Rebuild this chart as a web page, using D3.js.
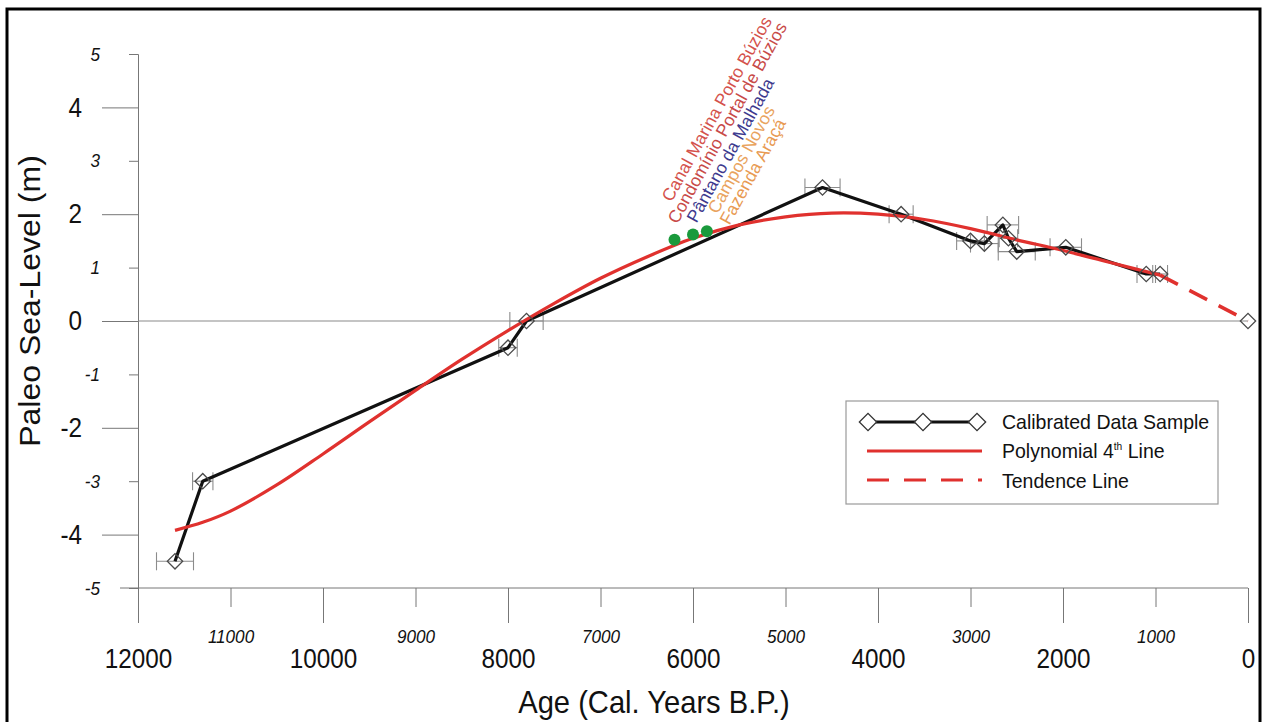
<!DOCTYPE html>
<html>
<head>
<meta charset="utf-8">
<script src="https://cdn.jsdelivr.net/npm/d3@7"></script>
<style>
  body { margin: 0; background: #fff; }
  svg { display: block; font-family: "Liberation Sans", Arial, sans-serif; }
</style>
</head>
<body>
<div id="chart"></div>
<script>
// calibrated samples: age (cal. years BP), level (m), age error (years)
var sampleAge   = [11600, 11300, 8000, 7800, 4600, 3750, 3000, 2850, 2650, 2590, 2500, 1970, 1100, 950];
var sampleLevel = [-4.5, -3.0, -0.5, 0.0, 2.5, 2.0, 1.5, 1.45, 1.8, 1.55, 1.3, 1.38, 0.88, 0.88];
var sampleErr   = [200, 110, 100, 180, 190, 130, 150, 150, 170, 100, 200, 170, 100, 80];

// present day point
var presentAge = 0, presentLevel = 0;

// polynomial 4th curve
var polyAge   = [11600, 11300, 11000, 10500, 10000, 9500, 9000, 8500, 8000, 7500, 7000, 6500, 6000, 5500, 5000, 4500, 4000, 3500, 3000, 2500, 2000, 1500, 950];
var polyLevel = [-3.92, -3.77, -3.56, -3.07, -2.49, -1.89, -1.3, -0.72, -0.18, 0.33, 0.8, 1.2, 1.55, 1.8, 1.95, 2.02, 2.0, 1.9, 1.73, 1.52, 1.32, 1.1, 0.86];

// tendence line
var trendAge   = [950, 0];
var trendLevel = [0.86, 0];

// green sites
var siteAge   = [6200, 6000, 5850];
var siteLevel = [1.52, 1.62, 1.68];

var siteNames  = ['Canal Marina Porto Búzios', 'Condomínio Portal de Búzios', 'Pântano da Malhada', 'Campos Novos', 'Fazenda Araçá'];
var siteColors = ['#d4524c', '#c84a48', '#3d3a8e', '#e9a35e', '#e89a52'];

var xMajor = [12000, 10000, 8000, 6000, 4000, 2000, 0];
var xMinor = [11000, 9000, 7000, 5000, 3000, 1000];
var yMajor = [4, 2, 0, -2, -4];
var yMinor = [5, 3, 1, -1, -3, -5];

var W = 1268, H = 722;
var red = '#e0312e';
var plain = function(d) { return String(d); };

var svg = d3.select('#chart').append('svg').attr('width', W).attr('height', H);

var x = d3.scaleLinear().domain([12000, 0]).range([138, 1248]);
var y = d3.scaleLinear().domain([-5, 5]).range([588, 54]);

// frame
svg.append('rect').attr('x', 7).attr('y', 9).attr('width', 1253).attr('height', 740)
    .attr('fill', 'none').attr('stroke', '#000').attr('stroke-width', 3);

// axes
function styleAxis(g) {
    g.selectAll('path.domain').attr('stroke', '#777');
    g.selectAll('.tick line').attr('stroke', '#777');
    g.selectAll('text').attr('fill', '#111').attr('font-family', '"Liberation Sans", Arial, sans-serif');
}

var gxMaj = svg.append('g').attr('transform', 'translate(0,588)')
    .call(d3.axisBottom(x).tickValues(xMajor).tickSize(35).tickSizeOuter(0).tickFormat(plain));
gxMaj.call(styleAxis);
gxMaj.select('path.domain').remove();
gxMaj.selectAll('text').attr('y', 80).attr('dy', 0).attr('font-size', 27);

var gxMin = svg.append('g').attr('transform', 'translate(0,588)')
    .call(d3.axisBottom(x).tickValues(xMinor).tickSize(19).tickFormat(plain));
gxMin.call(styleAxis);
gxMin.select('path.domain').remove();
gxMin.selectAll('text').attr('y', 55).attr('dy', 0).attr('font-size', 19).attr('font-style', 'italic');

svg.append('line').attr('x1', 120).attr('x2', x(0)).attr('y1', 588).attr('y2', 588).attr('stroke', '#777');

var gyMaj = svg.append('g').attr('transform', 'translate(138,0)')
    .call(d3.axisLeft(y).tickValues(yMajor).tickSize(36).tickSizeOuter(0).tickFormat(plain));
gyMaj.call(styleAxis);
gyMaj.selectAll('text').attr('x', -56).attr('font-size', 27);

var gyMin = svg.append('g').attr('transform', 'translate(138,0)')
    .call(d3.axisLeft(y).tickValues(yMinor).tickSize(9).tickSizeOuter(0).tickFormat(plain));
gyMin.call(styleAxis);
gyMin.selectAll('text').attr('x', -38).attr('font-size', 19).attr('font-style', 'italic');

// squeeze tick labels a bit horizontally, like the source
svg.selectAll('.tick text').each(function() {
    var t = d3.select(this);
    var tx = +t.attr('x') || 0, ty = +t.attr('y') || 0;
    t.attr('transform', 'translate(' + tx + ',' + ty + ') scale(0.9,1)').attr('x', 0).attr('y', 0);
});

// zero line
svg.append('line').attr('x1', x(12000)).attr('x2', x(0)).attr('y1', y(0)).attr('y2', y(0))
    .attr('stroke', '#8a8a8a').attr('stroke-width', 1.2);

// titles
svg.append('text').attr('transform', 'translate(654,713) scale(0.94,1)')
    .attr('text-anchor', 'middle').attr('font-size', 31).attr('fill', '#111')
    .text('Age (Cal. Years B.P.)');
svg.append('text').attr('transform', 'translate(40,301) rotate(-90) scale(1,0.92)')
    .attr('text-anchor', 'middle').attr('font-size', 32).attr('fill', '#111')
    .text('Paleo Sea-Level (m)');

var samples = sampleAge.map(function(a, i) { return {age: a, level: sampleLevel[i], err: sampleErr[i]}; });

// error bars
var eb = svg.append('g').attr('stroke', '#8c8c8c').attr('stroke-width', 1.1).attr('fill', 'none');
samples.forEach(function(d) {
    var cy = y(d.level), x1 = x(d.age + d.err), x2 = x(d.age - d.err);
    eb.append('line').attr('x1', x1).attr('x2', x2).attr('y1', cy).attr('y2', cy);
    eb.append('line').attr('x1', x1).attr('x2', x1).attr('y1', cy - 9).attr('y2', cy + 9);
    eb.append('line').attr('x1', x2).attr('x2', x2).attr('y1', cy - 9).attr('y2', cy + 9);
});

var line = d3.line().x(function(d) { return x(d[0]); }).y(function(d) { return y(d[1]); });

// calibrated data line
svg.append('path').datum(samples.map(function(d) { return [d.age, d.level]; }))
    .attr('d', line).attr('fill', 'none').attr('stroke', '#111').attr('stroke-width', 3.2)
    .attr('stroke-linejoin', 'round');

// polynomial
svg.append('path').datum(polyAge.map(function(a, i) { return [a, polyLevel[i]]; }))
    .attr('d', line.curve(d3.curveCatmullRom)).attr('fill', 'none').attr('stroke', red).attr('stroke-width', 3.2);
line.curve(d3.curveLinear);

// tendence
svg.append('path').datum(trendAge.map(function(a, i) { return [a, trendLevel[i]]; }))
    .attr('d', line).attr('fill', 'none').attr('stroke', red).attr('stroke-width', 3.5)
    .attr('stroke-dasharray', '20,13');

// diamonds
var diamond = d3.symbol().type(d3.symbolSquare).size(118);
var pts = samples.map(function(d) { return [d.age, d.level]; }).concat([[presentAge, presentLevel]]);
svg.append('g').selectAll('path').data(pts).join('path')
    .attr('d', diamond)
    .attr('transform', function(d) { return 'translate(' + x(d[0]) + ',' + y(d[1]) + ') rotate(45)'; })
    .attr('fill', 'none').attr('stroke', '#4a4a4a').attr('stroke-width', 1.3);

// sites
svg.append('g').selectAll('circle').data(siteAge).join('circle')
    .attr('cx', function(d) { return x(d); })
    .attr('cy', function(d, i) { return y(siteLevel[i]); })
    .attr('r', 6).attr('fill', '#1a9a3c');

var labelOff = [[-3, -37], [3, -15], [22, -16], [43, -25], [55, -14]];
var x0 = x(siteAge[0]), y0 = y(siteLevel[0]);
svg.append('g').selectAll('text').data(siteNames).join('text')
    .attr('transform', function(d, i) {
        return 'translate(' + (x0 + labelOff[i][0]) + ',' + (y0 + labelOff[i][1]) + ') rotate(-61)';
    })
    .attr('font-size', 17.5).attr('fill', function(d, i) { return siteColors[i]; })
    .text(function(d) { return d; });

// legend
var lg = svg.append('g');
lg.append('rect').attr('x', 846).attr('y', 401).attr('width', 372).attr('height', 103)
    .attr('fill', '#fff').attr('stroke', '#9a9a9a').attr('stroke-width', 1.2);
lg.append('line').attr('x1', 866).attr('x2', 978).attr('y1', 422).attr('y2', 422)
    .attr('stroke', '#111').attr('stroke-width', 3);
lg.selectAll('path.ld').data([868, 923, 977]).join('path').attr('class', 'ld')
    .attr('d', d3.symbol().type(d3.symbolSquare).size(150))
    .attr('transform', function(d) { return 'translate(' + d + ',422) rotate(45)'; })
    .attr('fill', '#fff').attr('stroke', '#333').attr('stroke-width', 1.3);
lg.append('line').attr('x1', 867).attr('x2', 982).attr('y1', 451).attr('y2', 451)
    .attr('stroke', red).attr('stroke-width', 3.2);
lg.append('line').attr('x1', 867).attr('x2', 982).attr('y1', 480).attr('y2', 480)
    .attr('stroke', red).attr('stroke-width', 3.2).attr('stroke-dasharray', '22,15');

var legText = [['Calibrated Data Sample', 429], ['Polynomial 4', 458], ['Tendence Line', 488]];
legText.forEach(function(t) {
    lg.append('text').attr('transform', 'translate(1002,' + t[1] + ') scale(0.93,1)')
        .attr('font-size', 21).attr('fill', '#111').text(t[0]);
});
var pt = lg.selectAll('text').filter(function(d, i) { return i === 1; });
pt.append('tspan').attr('font-size', 11).attr('dy', -8).text('th');
pt.append('tspan').attr('font-size', 21).attr('dy', 8).text(' Line');
</script>
</body>
</html>
